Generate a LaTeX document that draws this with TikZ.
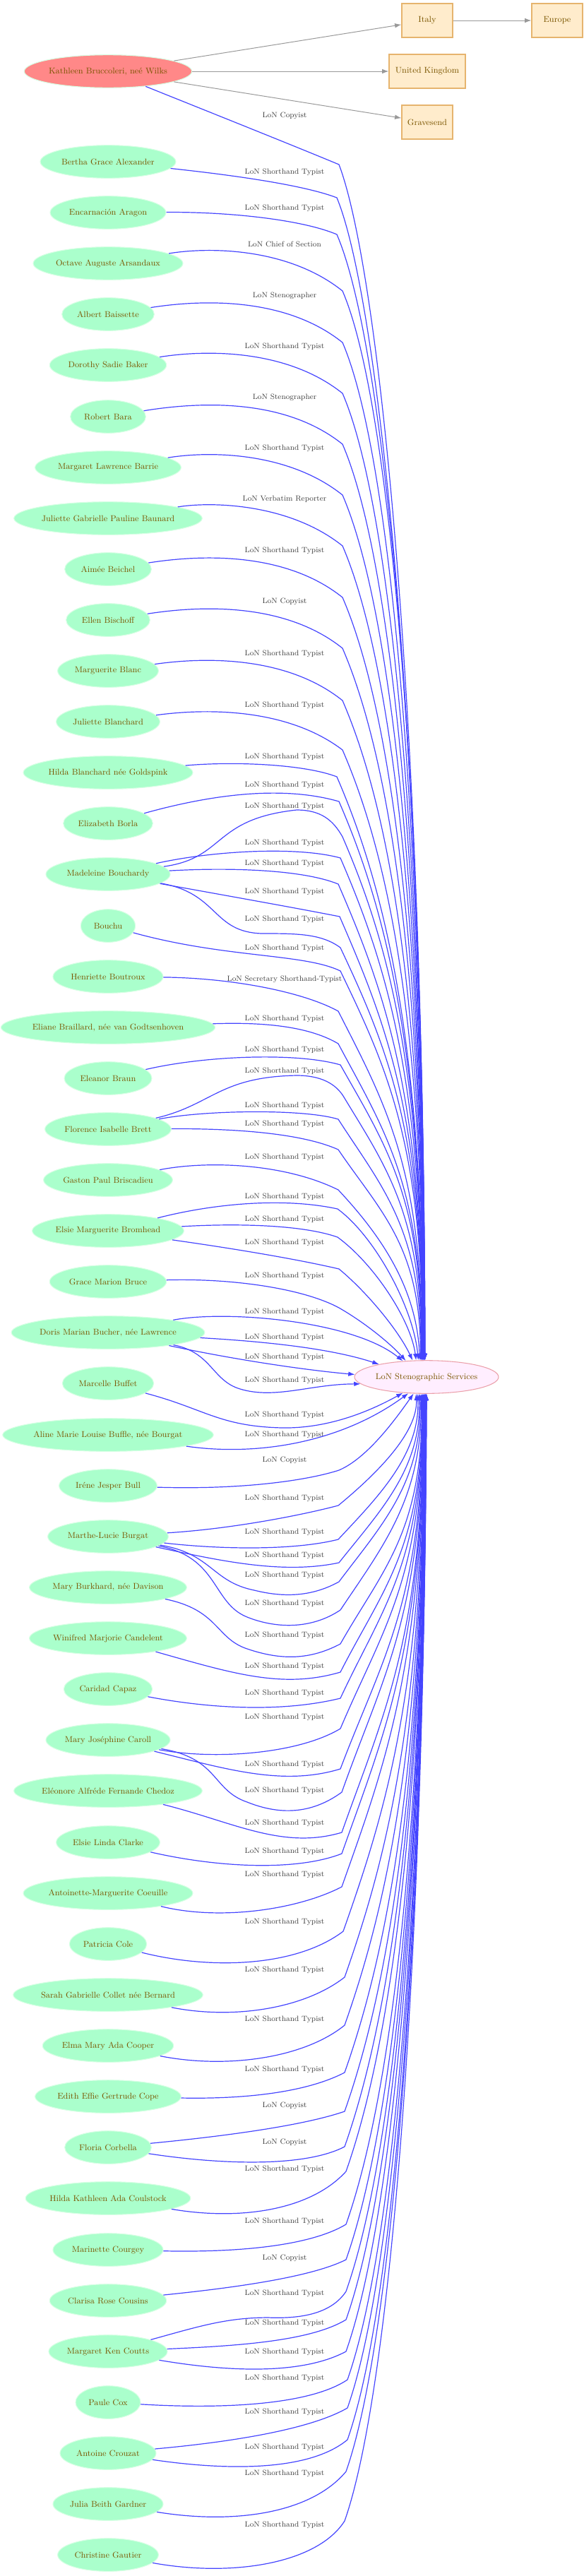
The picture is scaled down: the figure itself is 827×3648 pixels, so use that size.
\documentclass[tikz,border=0pt]{standalone}
\usepackage{tikz}
\usetikzlibrary{shapes.geometric,arrows.meta}

\definecolor{persongreen}{RGB}{170,255,204}
\definecolor{personedge}{RGB}{215,255,228}
\definecolor{kathleenred}{RGB}{255,136,136}
\definecolor{hubpink}{RGB}{255,238,255}
\definecolor{hubedge}{RGB}{235,160,170}
\definecolor{placefill}{RGB}{255,236,204}
\definecolor{placeedge}{RGB}{230,180,110}
\definecolor{nametext}{RGB}{122,85,0}
\definecolor{roletext}{RGB}{64,64,64}
\definecolor{edgeblue}{RGB}{68,68,255}
\definecolor{edgegrey}{RGB}{153,153,153}

\begin{document}
\begin{tikzpicture}[x=0.75pt,y=0.75pt,yscale=-1,xscale=1,
  person/.style={ellipse, fill=persongreen, draw=personedge, line width=0.8pt, text=nametext, font=\fontsize{9}{10}\selectfont, inner sep=0pt, minimum height=35pt},
  hub/.style={ellipse, fill=hubpink, draw=hubedge, line width=0.8pt, text=nametext, font=\fontsize{9}{10}\selectfont, inner sep=0pt, minimum height=35pt},
  placebox/.style={rectangle, fill=placefill, draw=placeedge, line width=0.9pt, text=nametext, font=\fontsize{9}{10}\selectfont, inner sep=0pt, minimum height=36pt, minimum width=54pt},
  role/.style={text=roletext, font=\fontsize{8}{9}\selectfont, inner sep=0pt},
  fan/.style={draw=edgeblue, line width=0.9pt, -{Latex[length=7pt,width=5pt]}},
  geo/.style={draw=edgegrey, line width=0.75pt, -{Latex[length=7pt,width=5pt]}}]
\useasboundingbox (0,0) rectangle (827,3648);

% Top node and places
\node[person, fill=kathleenred, minimum width=175pt] (kathleen) at (153,101) {Kathleen Bruccoleri, neé Wilks};
\node[placebox] (italy) at (605,29) {Italy};
\node[placebox] (europe) at (789,29) {Europe};
\node[placebox, minimum width=81pt] (uk) at (605,101) {United Kingdom};
\node[placebox] (gravesend) at (605,173) {Gravesend};

% Hub
\node[hub, minimum width=149pt] (lon) at (604,1950) {LoN Stenographic Services};

% Persons
\node[person, minimum width=144pt] (bertha) at (153,229) {Bertha Grace Alexander};
\node[person, minimum width=123pt] (encarnacion) at (153,301) {Encarnación Aragon};
\node[person, minimum width=159pt] (octave) at (153,373) {Octave Auguste Arsandaux};
\node[person, minimum width=98pt] (albert) at (153,445) {Albert Baissette};
\node[person, minimum width=124pt] (dorothy) at (153,517) {Dorothy Sadie Baker};
\node[person, minimum width=80pt] (robert) at (153,590) {Robert Bara};
\node[person, minimum width=155pt] (margaretb) at (153,662) {Margaret Lawrence Barrie};
\node[person, minimum width=194pt] (juliettebau) at (153,734) {Juliette Gabrielle Pauline Baunard};
\node[person, minimum width=92pt] (aimee) at (153,806) {Aimée Beichel};
\node[person, minimum width=89pt] (ellen) at (153,878) {Ellen Bischoff};
\node[person, minimum width=107pt] (marguerite) at (153,950) {Marguerite Blanc};
\node[person, minimum width=110pt] (juliettebla) at (153,1022) {Juliette Blanchard};
\node[person, minimum width=180pt] (hildab) at (153,1094) {Hilda Blanchard née Goldspink};
\node[person, minimum width=95pt] (elizabeth) at (153,1166) {Elizabeth Borla};
\node[person, minimum width=132pt] (madeleine) at (153,1238) {Madeleine Bouchardy};
\node[person, minimum width=58pt] (bouchu) at (153,1311) {Bouchu};
\node[person, minimum width=117pt] (henriette) at (153,1383) {Henriette Boutroux};
\node[person, minimum width=224pt] (eliane) at (153,1455) {Eliane Braillard, née van Godtsenhoven};
\node[person, minimum width=93pt] (eleanor) at (153,1527) {Eleanor Braun};
\node[person, minimum width=134pt] (florence) at (153,1599) {Florence Isabelle Brett};
\node[person, minimum width=137pt] (gaston) at (153,1671) {Gaston Paul Briscadieu};
\node[person, minimum width=161pt] (elsieb) at (153,1743) {Elsie Marguerite Bromhead};
\node[person, minimum width=124pt] (grace) at (153,1815) {Grace Marion Bruce};
\node[person, minimum width=205pt] (doris) at (153,1887) {Doris Marian Bucher, née Lawrence};
\node[person, minimum width=97pt] (marcelle) at (153,1959) {Marcelle Buffet};
\node[person, minimum width=219pt] (aline) at (153,2032) {Aline Marie Louise Buffle, née Bourgat};
\node[person, minimum width=104pt] (irene) at (153,2104) {Iréne Jesper Bull};
\node[person, minimum width=128pt] (marthe) at (153,2176) {Marthe-Lucie Burgat};
\node[person, minimum width=167pt] (maryb) at (153,2248) {Mary Burkhard, née Davison};
\node[person, minimum width=167pt] (winifred) at (153,2320) {Winifred Marjorie Candelent};
\node[person, minimum width=94pt] (caridad) at (153,2392) {Caridad Capaz};
\node[person, minimum width=132pt] (maryj) at (153,2464) {Mary Joséphine Caroll};
\node[person, minimum width=200pt] (eleonore) at (153,2536) {Eléonore Alfréde Fernande Chedoz};
\node[person, minimum width=110pt] (elsiec) at (153,2609) {Elsie Linda Clarke};
\node[person, minimum width=180pt] (antoinette) at (153,2681) {Antoinette-Marguerite Coeuille};
\node[person, minimum width=82pt] (patricia) at (153,2753) {Patricia Cole};
\node[person, minimum width=199pt] (sarah) at (153,2825) {Sarah Gabrielle Collet née Bernard};
\node[person, minimum width=139pt] (elma) at (153,2897) {Elma Mary Ada Cooper};
\node[person, minimum width=155pt] (edith) at (153,2969) {Edith Effie Gertrude Cope};
\node[person, minimum width=92pt] (floria) at (153,3041) {Floria Corbella};
\node[person, minimum width=172pt] (hildak) at (153,3113) {Hilda Kathleen Ada Coulstock};
\node[person, minimum width=117pt] (marinette) at (153,3186) {Marinette Courgey};
\node[person, minimum width=124pt] (clarisa) at (153,3258) {Clarisa Rose Cousins};
\node[person, minimum width=126pt] (margaretc) at (153,3330) {Margaret Ken Coutts};
\node[person, minimum width=69pt] (paule) at (153,3402) {Paule Cox};
\node[person, minimum width=102pt] (antoine) at (153,3474) {Antoine Crouzat};
\node[person, minimum width=117pt] (julia) at (153,3546) {Julia Beith Gardner};
\node[person, minimum width=107pt] (christine) at (153,3618) {Christine Gautier};

% Edge labels
\node[role] (t-kathleen) at (403,164) {LoN Copyist};
\node[role] (t-bertha) at (403,244) {LoN Shorthand Typist};
\node[role] (t-encarnacion) at (403,295) {LoN Shorthand Typist};
\node[role] (t-octave) at (403,346) {LoN Chief of Section};
\node[role] (t-albert) at (403,419) {LoN Stenographer};
\node[role] (t-dorothy) at (403,491) {LoN Shorthand Typist};
\node[role] (t-robert) at (403,563) {LoN Stenographer};
\node[role] (t-margaretb) at (403,635) {LoN Shorthand Typist};
\node[role] (t-juliettebau) at (403,707) {LoN Verbatim Reporter};
\node[role] (t-aimee) at (403,780) {LoN Shorthand Typist};
\node[role] (t-ellen) at (403,852) {LoN Copyist};
\node[role] (t-marguerite) at (403,926) {LoN Shorthand Typist};
\node[role] (t-juliettebla) at (403,999) {LoN Shorthand Typist};
\node[role] (t-hildab) at (403,1072) {LoN Shorthand Typist};
\node[role] (t-elizabeth) at (403,1112) {LoN Shorthand Typist};
\node[role] (t-madeleine1) at (403,1142) {LoN Shorthand Typist};
\node[role] (t-madeleine2) at (403,1194) {LoN Shorthand Typist};
\node[role] (t-madeleine3) at (403,1223) {LoN Shorthand Typist};
\node[role] (t-madeleine4) at (403,1263) {LoN Shorthand Typist};
\node[role] (t-madeleine5) at (403,1302) {LoN Shorthand Typist};
\node[role] (t-bouchu) at (403,1343) {LoN Shorthand Typist};
\node[role] (t-henriette) at (403,1387) {LoN Secretary Shorthand-Typist};
\node[role] (t-eliane) at (403,1443) {LoN Shorthand Typist};
\node[role] (t-eleanor) at (403,1487) {LoN Shorthand Typist};
\node[role] (t-florence1) at (403,1517) {LoN Shorthand Typist};
\node[role] (t-florence2) at (403,1566) {LoN Shorthand Typist};
\node[role] (t-florence3) at (403,1592) {LoN Shorthand Typist};
\node[role] (t-gaston) at (403,1639) {LoN Shorthand Typist};
\node[role] (t-elsieb1) at (403,1695) {LoN Shorthand Typist};
\node[role] (t-elsieb2) at (403,1727) {LoN Shorthand Typist};
\node[role] (t-elsieb3) at (403,1760) {LoN Shorthand Typist};
\node[role] (t-grace) at (403,1807) {LoN Shorthand Typist};
\node[role] (t-doris1) at (403,1858) {LoN Shorthand Typist};
\node[role] (t-doris2) at (403,1894) {LoN Shorthand Typist};
\node[role] (t-doris3) at (403,1922) {LoN Shorthand Typist};
\node[role] (t-doris4) at (403,1955) {LoN Shorthand Typist};
\node[role] (t-marcelle) at (403,2004) {LoN Shorthand Typist};
\node[role] (t-aline) at (403,2032) {LoN Shorthand Typist};
\node[role] (t-irene) at (403,2068) {LoN Copyist};
\node[role] (t-marthe1) at (403,2122) {LoN Shorthand Typist};
\node[role] (t-marthe2) at (403,2170) {LoN Shorthand Typist};
\node[role] (t-marthe3) at (403,2203) {LoN Shorthand Typist};
\node[role] (t-marthe4) at (403,2231) {LoN Shorthand Typist};
\node[role] (t-marthe5) at (403,2271) {LoN Shorthand Typist};
\node[role] (t-maryb) at (403,2316) {LoN Shorthand Typist};
\node[role] (t-winifred) at (403,2360) {LoN Shorthand Typist};
\node[role] (t-caridad) at (403,2398) {LoN Shorthand Typist};
\node[role] (t-maryj1) at (403,2432) {LoN Shorthand Typist};
\node[role] (t-maryj2) at (403,2499) {LoN Shorthand Typist};
\node[role] (t-maryj3) at (403,2536) {LoN Shorthand Typist};
\node[role] (t-eleonore) at (403,2582) {LoN Shorthand Typist};
\node[role] (t-elsiec) at (403,2622) {LoN Shorthand Typist};
\node[role] (t-antoinette) at (403,2655) {LoN Shorthand Typist};
\node[role] (t-patricia) at (403,2722) {LoN Shorthand Typist};
\node[role] (t-sarah) at (403,2790) {LoN Shorthand Typist};
\node[role] (t-elma) at (403,2860) {LoN Shorthand Typist};
\node[role] (t-edith) at (403,2931) {LoN Shorthand Typist};
\node[role] (t-floria1) at (403,2982) {LoN Copyist};
\node[role] (t-floria2) at (403,3034) {LoN Copyist};
\node[role] (t-hildak) at (403,3072) {LoN Shorthand Typist};
\node[role] (t-marinette) at (403,3146) {LoN Shorthand Typist};
\node[role] (t-clarisa) at (403,3198) {LoN Copyist};
\node[role] (t-margaretc1) at (403,3248) {LoN Shorthand Typist};
\node[role] (t-margaretc2) at (403,3290) {LoN Shorthand Typist};
\node[role] (t-margaretc3) at (403,3331) {LoN Shorthand Typist};
\node[role] (t-paule) at (403,3368) {LoN Shorthand Typist};
\node[role] (t-antoine1) at (403,3416) {LoN Shorthand Typist};
\node[role] (t-antoine2) at (403,3466) {LoN Shorthand Typist};
\node[role] (t-julia) at (403,3503) {LoN Shorthand Typist};
\node[role] (t-christine) at (403,3576) {LoN Shorthand Typist};

% Grey arrows
\draw[geo] (kathleen) -- (italy);
\draw[geo] (kathleen) -- (uk);
\draw[geo] (kathleen) -- (gravesend);
\draw[geo] (italy) -- (europe);

% Curves into the hub, from above
\draw[fan] (kathleen) .. controls (300,160) and (420,208) .. (480,233) .. controls (536,380) and (600,995) .. (lon.95);
\draw[fan] (bertha) .. controls (330,248) and (430,262) .. (477,280) .. controls (535,420) and (600,1021) .. (lon.95);
\draw[fan] (encarnacion) .. controls (330,300) and (430,312) .. (477,332) .. controls (542,482) and (600,1050) .. (lon.95);
\draw[fan] (octave) .. controls (300,349) and (410,352) .. (485,412) .. controls (550,562) and (600,1094) .. (lon.96);
\draw[fan] (albert) .. controls (300,422) and (410,425) .. (485,485) .. controls (550,635) and (600,1134) .. (lon.96);
\draw[fan] (dorothy) .. controls (300,494) and (410,497) .. (485,557) .. controls (550,707) and (600,1174) .. (lon.97);
\draw[fan] (robert) .. controls (300,566) and (410,569) .. (485,629) .. controls (550,779) and (600,1213) .. (lon.97);
\draw[fan] (margaretb) .. controls (300,638) and (410,641) .. (485,701) .. controls (550,851) and (600,1253) .. (lon.98);
\draw[fan] (juliettebau) .. controls (300,710) and (410,713) .. (485,773) .. controls (550,923) and (600,1292) .. (lon.98);
\draw[fan] (aimee) .. controls (300,783) and (410,786) .. (485,846) .. controls (550,996) and (600,1332) .. (lon.99);
\draw[fan] (ellen) .. controls (300,855) and (410,858) .. (485,918) .. controls (550,1068) and (600,1372) .. (lon.99);
\draw[fan] (marguerite) .. controls (300,929) and (410,932) .. (485,992) .. controls (550,1142) and (600,1413) .. (lon.100);
\draw[fan] (juliettebla) .. controls (300,1002) and (410,1005) .. (485,1062) .. controls (550,1212) and (600,1451) .. (lon.100);
\draw[fan] (hildab) .. controls (330,1078) and (430,1082) .. (477,1100) .. controls (542,1250) and (600,1472) .. (lon.101);
\draw[fan] (elizabeth) .. controls (300,1125) and (400,1112) .. (480,1135) .. controls (545,1285) and (600,1491) .. (lon.101);
\draw[fan] (madeleine) .. controls (320,1215) and (300,1160) .. (420,1147) .. controls (455,1147) and (472,1162) .. (485,1185) .. controls (550,1335) and (600,1519) .. (lon.102);
\draw[fan] (madeleine) .. controls (300,1205) and (420,1198) .. (482,1215) .. controls (547,1365) and (600,1535) .. (lon.102);
\draw[fan] (madeleine) .. controls (330,1228) and (430,1232) .. (479,1252) .. controls (544,1402) and (600,1556) .. (lon.103);
\draw[fan] (madeleine) .. controls (330,1270) and (420,1286) .. (481,1298) .. controls (546,1448) and (600,1581) .. (lon.103);
\draw[fan] (madeleine) .. controls (310,1265) and (300,1320) .. (371,1322) .. controls (420,1322) and (455,1322) .. (482,1342) .. controls (547,1480) and (600,1605) .. (lon.104);
\draw[fan] (bouchu) .. controls (320,1357) and (430,1350) .. (482,1375) .. controls (547,1510) and (600,1623) .. (lon.104);
\draw[fan] (henriette) .. controls (330,1385) and (430,1405) .. (479,1432) .. controls (544,1560) and (599,1655) .. (lon.105);
\draw[fan] (eliane) .. controls (380,1447) and (440,1455) .. (479,1478) .. controls (544,1600) and (599,1680) .. (lon.106);
\draw[fan] (eleanor) .. controls (290,1495) and (420,1490) .. (482,1508) .. controls (545,1620) and (599,1697) .. (lon.106);
\draw[fan] (florence) .. controls (300,1565) and (310,1525) .. (420,1523) .. controls (455,1523) and (475,1535) .. (486,1552) .. controls (545,1650) and (598,1720) .. (lon.107);
\draw[fan] (florence) .. controls (290,1572) and (430,1570) .. (479,1585) .. controls (540,1680) and (597,1740) .. (lon.108);
\draw[fan] (florence) .. controls (340,1598) and (430,1606) .. (479,1628) .. controls (538,1715) and (596,1765) .. (lon.110);
\draw[fan] (gaston) .. controls (290,1644) and (400,1646) .. (479,1685) .. controls (535,1745) and (590,1820) .. (lon.112);
\draw[fan] (elsieb) .. controls (300,1705) and (400,1695) .. (478,1712) .. controls (530,1750) and (585,1850) .. (lon.116);
\draw[fan] (elsieb) .. controls (340,1732) and (430,1735) .. (478,1752) .. controls (530,1790) and (582,1870) .. (lon.122);
\draw[fan] (elsieb) .. controls (330,1768) and (420,1783) .. (480,1797) .. controls (520,1830) and (565,1885) .. (lon.130);
\draw[fan] (grace) .. controls (330,1810) and (430,1825) .. (480,1852) .. controls (520,1875) and (555,1905) .. (lon.142);
\draw[fan] (doris) .. controls (320,1855) and (500,1870) .. (lon.146);
\draw[fan] (doris) .. controls (380,1900) and (470,1910) .. (lon.165);
\draw[fan] (doris) .. controls (330,1925) and (430,1940) .. (lon.178);
\draw[fan] (doris) .. controls (300,1915) and (300,1955) .. (340,1967) .. controls (390,1982) and (440,1960) .. (lon.186);

% Curves into the hub, from below
\draw[fan] (marcelle) .. controls (290,1995) and (310,2020) .. (400,2022) .. controls (470,2023) and (530,1995) .. (lon.214);
\draw[fan] (aline) .. controls (360,2062) and (480,2045) .. (lon.222);
\draw[fan] (irene) .. controls (350,2110) and (440,2095) .. (480,2082) .. controls (520,2065) and (560,2010) .. (lon.232);
\draw[fan] (marthe) .. controls (330,2165) and (430,2145) .. (479,2132) .. controls (530,2090) and (592,2030) .. (lon.238);
\draw[fan] (marthe) .. controls (320,2195) and (420,2195) .. (479,2180) .. controls (535,2120) and (595,2060) .. (lon.242);
\draw[fan] (marthe) .. controls (310,2210) and (400,2230) .. (480,2213) .. controls (538,2140) and (597,2080) .. (lon.246);
\draw[fan] (marthe) .. controls (300,2200) and (300,2240) .. (360,2252) .. controls (400,2262) and (440,2262) .. (480,2240) .. controls (540,2160) and (598,2100) .. (lon.249);
\draw[fan] (marthe) .. controls (310,2205) and (300,2270) .. (350,2290) .. controls (390,2306) and (440,2308) .. (482,2280) .. controls (542,2190) and (599,2120) .. (lon.252);
\draw[fan] (maryb) .. controls (310,2280) and (305,2320) .. (350,2335) .. controls (400,2352) and (440,2350) .. (482,2328) .. controls (542,2222) and (600,2169) .. (lon.254);
\draw[fan] (winifred) .. controls (330,2370) and (400,2392) .. (482,2368) .. controls (542,2250) and (600,2191) .. (lon.256);
\draw[fan] (caridad) .. controls (300,2420) and (400,2425) .. (482,2405) .. controls (542,2276) and (600,2211) .. (lon.257);
\draw[fan] (maryj) .. controls (300,2492) and (420,2485) .. (482,2448) .. controls (542,2306) and (600,2235) .. (lon.258);
\draw[fan] (maryj) .. controls (320,2505) and (400,2530) .. (482,2505) .. controls (542,2346) and (600,2266) .. (lon.259);
\draw[fan] (maryj) .. controls (310,2490) and (300,2535) .. (350,2552) .. controls (395,2570) and (440,2570) .. (484,2538) .. controls (544,2369) and (600,2284) .. (lon.260);
\draw[fan] (eleonore) .. controls (330,2580) and (400,2620) .. (484,2595) .. controls (544,2425) and (600,2316) .. (lon.261);
\draw[fan] (elsiec) .. controls (310,2645) and (420,2650) .. (484,2625) .. controls (544,2455) and (600,2332) .. (lon.262);
\draw[fan] (antoinette) .. controls (310,2720) and (420,2705) .. (484,2672) .. controls (544,2502) and (600,2358) .. (lon.263);
\draw[fan] (patricia) .. controls (300,2790) and (420,2785) .. (486,2735) .. controls (546,2565) and (600,2393) .. (lon.263);
\draw[fan] (sarah) .. controls (330,2860) and (430,2845) .. (488,2800) .. controls (548,2630) and (600,2428) .. (lon.264);
\draw[fan] (elma) .. controls (320,2930) and (430,2915) .. (488,2868) .. controls (548,2698) and (600,2466) .. (lon.264);
\draw[fan] (edith) .. controls (360,2973) and (440,2960) .. (488,2935) .. controls (548,2765) and (600,2503) .. (lon.265);
\draw[fan] (floria) .. controls (320,3025) and (430,3010) .. (488,2990) .. controls (548,2820) and (600,2533) .. (lon.265);
\draw[fan] (floria) .. controls (310,3065) and (430,3070) .. (488,3040) .. controls (548,2870) and (600,2560) .. (lon.266);
\draw[fan] (hildak) .. controls (340,3145) and (440,3130) .. (490,3075) .. controls (550,2905) and (600,2580) .. (lon.266);
\draw[fan] (marinette) .. controls (340,3190) and (440,3180) .. (490,3150) .. controls (550,2980) and (600,2621) .. (lon.267);
\draw[fan] (clarisa) .. controls (330,3240) and (440,3225) .. (490,3200) .. controls (550,3030) and (600,2648) .. (lon.267);
\draw[fan] (margaretc) .. controls (280,3295) and (320,3282) .. (380,3282) .. controls (430,3284) and (470,3275) .. (490,3245) .. controls (550,3075) and (600,2673) .. (lon.268);
\draw[fan] (margaretc) .. controls (340,3322) and (440,3315) .. (490,3285) .. controls (550,3115) and (600,2695) .. (lon.268);
\draw[fan] (margaretc) .. controls (330,3360) and (430,3362) .. (490,3330) .. controls (550,3160) and (600,2720) .. (lon.268);
\draw[fan] (paule) .. controls (320,3412) and (440,3405) .. (492,3370) .. controls (552,3200) and (600,2742) .. (lon.269);
\draw[fan] (antoine) .. controls (330,3458) and (440,3440) .. (492,3410) .. controls (552,3240) and (600,2764) .. (lon.269);
\draw[fan] (antoine) .. controls (330,3500) and (440,3498) .. (492,3455) .. controls (552,3285) and (600,2789) .. (lon.270);
\draw[fan] (julia) .. controls (330,3575) and (440,3560) .. (490,3500) .. controls (550,3330) and (600,2813) .. (lon.270);
\draw[fan] (christine) .. controls (330,3650) and (450,3630) .. (488,3570) .. controls (548,3400) and (600,2852) .. (lon.270);

\end{tikzpicture}
\end{document}
